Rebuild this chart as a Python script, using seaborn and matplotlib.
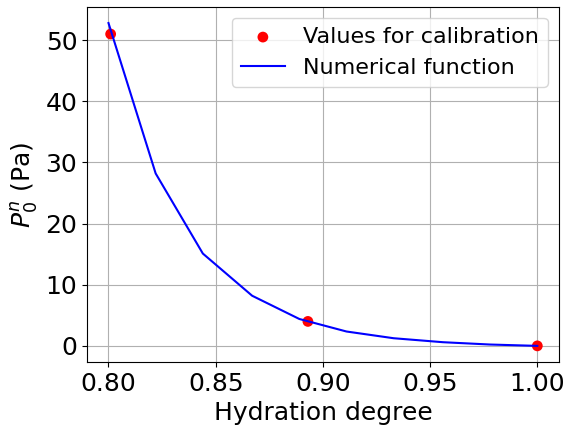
import matplotlib
matplotlib.use("Agg")
import matplotlib.pyplot as plt
import seaborn as sns

# calibration points
calib_x = [0.801, 0.893, 1.0]
calib_y = [51.0, 4.0, 0.0]

# numerical function samples
func_x = [0.800, 0.822, 0.844, 0.867, 0.889, 0.911, 0.933, 0.956, 0.978, 1.000]
func_y = [52.8, 28.2, 15.1, 8.2, 4.4, 2.35, 1.25, 0.6, 0.22, 0.0]

plt.rcParams['font.family'] = ['DejaVu Sans']

fig, ax = plt.subplots(figsize=(5.69, 4.32), dpi=100)
fig.subplots_adjust(left=0.153, right=0.982, top=0.984, bottom=0.162)

sns.scatterplot(x=calib_x, y=calib_y, ax=ax, color='red', s=60, edgecolor='none',
                label='Values for calibration', zorder=3)
sns.lineplot(x=func_x, y=func_y, ax=ax, color='blue', linewidth=1.5,
             label='Numerical function', zorder=4)

ax.set_xlabel('Hydration degree', fontsize=18)
ax.set_ylabel(r'$P_0^n$ (Pa)', fontsize=18)
ax.tick_params(labelsize=18)
ax.set_xticks([0.80, 0.85, 0.90, 0.95, 1.00])
ax.set_xticklabels(['0.80', '0.85', '0.90', '0.95', '1.00'])
ax.set_yticks([0, 10, 20, 30, 40, 50])
ax.grid(True, color='#b0b0b0', linewidth=0.8)
ax.set_axisbelow(True)
ax.legend(fontsize=16, loc='upper right')

fig.savefig('out.png', dpi=100)
